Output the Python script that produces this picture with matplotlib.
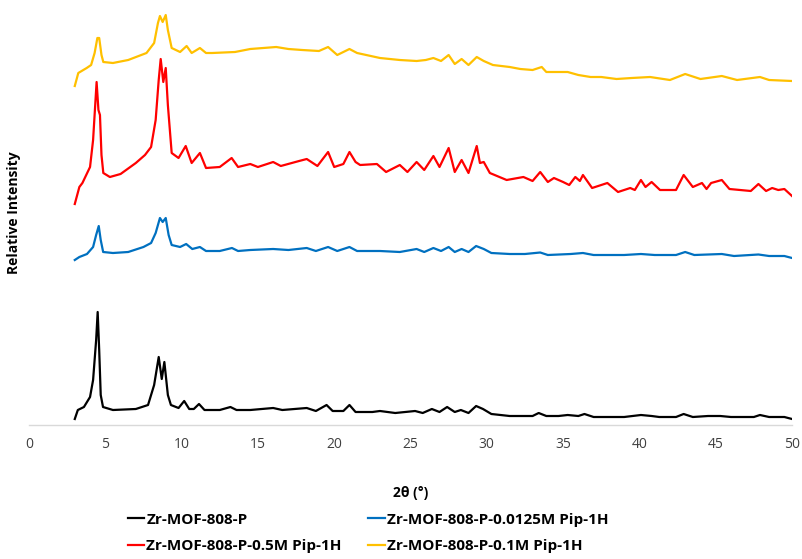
import matplotlib
matplotlib.use('Agg')
import matplotlib.pyplot as plt

plt.rcParams['font.family'] = ['Open Sans', 'DejaVu Sans']

# (2theta, relative intensity) points, traces already offset
black = [(3.0, 6), (3.2, 15), (3.6, 18), (4.0, 28), (4.2, 45), (4.4, 85), (4.5, 113),
         (4.6, 75), (4.7, 30), (4.85, 18), (5.5, 15), (7.0, 16), (7.8, 20), (8.2, 40),
         (8.5, 68), (8.7, 46), (8.87, 63), (9.1, 30), (9.3, 20), (9.8, 17), (10.17, 24),
         (10.5, 16), (10.8, 16), (11.14, 21), (11.5, 15), (12.5, 15), (13.2, 18), (13.6, 15),
         (14.5, 15), (16.0, 17), (16.6, 15), (18.2, 17), (18.8, 14), (19.5, 20), (19.9, 14),
         (20.6, 14), (21.0, 20), (21.4, 13), (22.5, 13), (23.0, 14), (24.0, 12), (25.3, 14),
         (25.8, 12), (26.4, 16), (26.9, 13), (27.4, 18), (27.9, 13), (28.3, 15), (28.8, 12),
         (29.3, 19), (29.75, 16), (30.3, 11), (31.5, 9), (32.5, 9), (33.0, 9), (33.4, 12),
         (33.9, 9), (34.7, 9), (35.3, 10), (36.0, 9), (36.4, 11), (37.0, 8), (39.0, 8),
         (40.1, 10), (40.8, 9), (41.3, 8), (42.4, 8), (42.9, 11), (43.5, 8), (44.5, 9),
         (45.3, 9), (46.0, 8), (47.5, 8), (47.9, 10), (48.5, 8), (49.5, 8), (50.0, 6)]

blue = [(3.0, 165), (3.3, 168), (3.8, 171), (4.2, 178), (4.4, 190), (4.57, 199), (4.7, 185),
        (4.86, 173), (5.5, 172), (6.5, 173), (7.5, 178), (8.0, 182), (8.3, 192), (8.58, 207),
        (8.76, 203), (8.96, 207), (9.15, 190), (9.35, 180), (9.9, 178), (10.3, 181),
        (10.7, 176), (11.2, 178), (11.6, 174), (12.5, 174), (13.3, 177), (13.7, 174),
        (14.5, 175), (16.0, 176), (17.0, 175), (18.2, 177), (18.8, 174), (19.6, 178),
        (20.2, 174), (21.0, 178), (21.5, 174), (23.0, 174), (24.3, 173), (25.4, 176),
        (25.9, 173), (26.5, 177), (27.0, 174), (27.5, 178), (27.9, 173), (28.35, 176),
        (28.8, 173), (29.3, 179), (29.8, 176), (30.3, 172), (31.5, 171), (32.5, 171),
        (33.5, 172.5), (34.0, 170), (35.5, 171), (36.3, 172), (37.0, 170), (39.0, 170),
        (40.1, 171), (41.0, 170), (42.4, 170), (43.0, 173), (43.6, 170), (45.4, 171),
        (46.2, 169), (47.8, 170.5), (48.5, 169), (49.5, 169), (50.0, 167)]

red = [(3.0, 221), (3.3, 238), (3.5, 242), (4.0, 258), (4.2, 285), (4.43, 343), (4.55, 315),
       (4.65, 310), (4.75, 270), (4.87, 252), (5.3, 248), (6.0, 251), (7.0, 262), (7.6, 270),
       (8.0, 278), (8.3, 305), (8.5, 345), (8.63, 366), (8.8, 343), (8.96, 357), (9.1, 320),
       (9.35, 272), (9.8, 267), (10.27, 279), (10.66, 262), (11.2, 272), (11.6, 257),
       (12.5, 258), (13.28, 267), (13.7, 258), (14.5, 261), (15.0, 258), (16.0, 263),
       (16.5, 259), (17.7, 264), (18.2, 266), (18.9, 259), (19.6, 273), (20.0, 258),
       (20.6, 261), (21.0, 273), (21.4, 263), (21.7, 260), (22.8, 261), (23.4, 253),
       (24.3, 260), (24.8, 253), (25.4, 263), (25.9, 255), (26.5, 269), (26.9, 258),
       (27.5, 277), (27.9, 253), (28.35, 265), (28.8, 252), (29.34, 279), (29.55, 262),
       (29.8, 263), (30.2, 252), (31.3, 245), (32.4, 248), (33.0, 244), (33.5, 253),
       (34.0, 243), (34.4, 247), (35.0, 243), (35.4, 240), (35.8, 248), (36.1, 244),
       (36.3, 250), (36.9, 237), (37.9, 242), (38.6, 233), (39.4, 237), (39.7, 235),
       (40.1, 245), (40.4, 238), (40.8, 243), (41.35, 235), (42.4, 235), (42.9, 250),
       (43.5, 238), (44.1, 242), (44.4, 236), (44.7, 242), (45.4, 245), (45.9, 236),
       (47.3, 234), (47.8, 241), (48.3, 234), (48.7, 237), (49.1, 235), (49.5, 236),
       (50.0, 229)]

yellow = [(3.0, 339), (3.23, 352), (3.78, 357), (4.07, 360), (4.3, 372), (4.48, 387),
          (4.6, 387), (4.75, 370), (4.87, 363), (5.5, 362), (6.5, 365), (7.7, 372),
          (8.2, 382), (8.45, 402), (8.58, 409), (8.76, 403), (8.96, 410), (9.1, 395),
          (9.35, 377), (9.9, 373), (10.33, 379), (10.66, 372), (11.2, 377), (11.6, 372),
          (12.0, 372), (13.5, 373), (14.5, 376), (16.2, 378), (17.0, 376), (17.9, 375),
          (19.0, 374), (19.6, 378), (20.2, 370), (21.0, 376), (21.5, 372), (23.0, 367),
          (24.3, 365), (25.4, 364), (26.0, 365), (26.5, 367), (27.0, 364), (27.5, 370),
          (27.9, 361), (28.35, 366), (28.8, 360), (29.34, 368), (29.8, 364), (30.4, 360),
          (31.5, 358), (32.2, 356), (33.0, 355), (33.6, 358), (33.9, 353), (35.3, 353),
          (36.0, 350), (36.8, 348), (37.5, 348), (38.5, 346), (39.5, 347), (40.7, 348),
          (42.0, 345), (43.0, 351), (44.0, 346), (45.4, 349), (46.4, 345), (47.9, 348),
          (48.5, 345), (50.0, 344)]

labels = ['Zr-MOF-808-P', 'Zr-MOF-808-P-0.0125M Pip-1H',
          'Zr-MOF-808-P-0.5M Pip-1H', 'Zr-MOF-808-P-0.1M Pip-1H']
colors = ['#000000', '#0070C0', '#FF0000', '#FFC000']
x_ticks = list(range(0, 51, 5))

fig = plt.figure(figsize=(8.03, 5.59), dpi=100)
ax = fig.add_axes([29 / 803, 1 - 425 / 559, 763 / 803, 425 / 559])

lines = []
for series, label, color in zip([black, blue, red, yellow], labels, colors):
    xs, ys = zip(*series)
    ln, = ax.plot(xs, ys, color=color, linewidth=1.6, label=label)
    lines.append(ln)

ax.set_xlim(0, 50)
ax.set_ylim(0, 425)
ax.set_xticks(x_ticks)
ax.set_yticks([])
ax.tick_params(axis='x', length=0, pad=9, labelsize=10, labelcolor='#404040')
for side in ['top', 'right', 'left']:
    ax.spines[side].set_visible(False)
ax.spines['bottom'].set_color('#D9D9D9')
ax.spines['bottom'].set_linewidth(1.0)

ax.set_xlabel('2θ (°)', fontsize=10, fontweight='bold', labelpad=24)
ax.set_ylabel('Relative Intensity', fontsize=10, fontweight='bold', labelpad=6)

# legend order so that columns read black/red and blue/yellow
order = [0, 2, 1, 3]
fig.legend([lines[i] for i in order], [labels[i] for i in order],
           loc='center', bbox_to_anchor=(0.4585, 0.0465), ncol=2, frameon=False,
           handlelength=1.05, handletextpad=0.15, columnspacing=1.75, labelspacing=0.85,
           prop={'weight': 'bold', 'size': 11})

fig.savefig('out.png', dpi=100)
